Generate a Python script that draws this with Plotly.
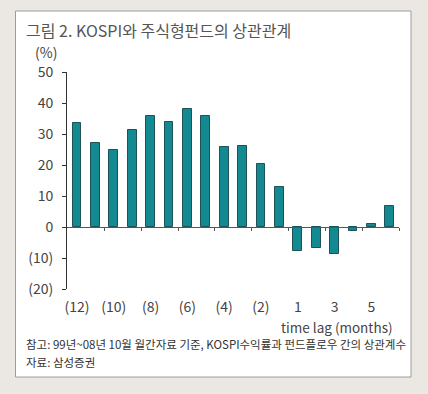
import plotly.graph_objects as go

# Data
lag_positions = list(range(18))
correlations = [33.4, 27.2, 25.0, 31.3, 35.8, 34.0, 38.0, 35.9, 25.7, 26.0,
                20.4, 12.9, -7.6, -6.7, -8.7, -1.4, 1.1, 6.8]
x_label_pos = [0, 2, 4, 6, 8, 10, 12, 14, 16]
x_labels = ["(12)", "(10)", "(8)", "(6)", "(4)", "(2)", "1", "3", "5"]
y_tick_vals = [-20, -10, 0, 10, 20, 30, 40, 50]
y_tick_text = ["(20)", "(10)", "0", "10", "20", "30", "40", "50"]
boundary_ticks = [1.5, 3.5, 5.5, 7.5, 9.5, 11.5, 13.5, 15.5, 17.5]

W, H = 428, 394
L, R, T, B = 67, 29, 72, 105
PW, PH = W - L - R, H - T - B
FONT = "Noto Sans CJK KR"
TXT = "#444444"
BG = "#ebe8e3"

def px(x):
    return (x - L) / PW

def py(y):
    return (H - B - y) / PH

XR = [-0.54, 17.5]
YR = [-20, 50]

fig = go.Figure()
fig.add_trace(go.Bar(
    x=lag_positions, y=correlations, width=0.48,
    marker=dict(color="#138a91", line=dict(color="#1f5257", width=1)),
    xaxis="x", yaxis="y", hoverinfo="skip", showlegend=False,
))
fig.add_trace(go.Scatter(x=[0], y=[0], mode="markers", marker=dict(opacity=0),
                         xaxis="x2", yaxis="y", hoverinfo="skip", showlegend=False))

fig.update_layout(
    width=W, height=H,
    margin=dict(l=L, r=R, t=T, b=B, pad=0, autoexpand=False),
    paper_bgcolor=BG,
    plot_bgcolor="rgba(0,0,0,0)",
    font=dict(family=FONT, color=TXT, size=14),
    bargap=0,
    xaxis=dict(range=XR, anchor="free", position=20 / 70, showline=True,
               linecolor="#555555", linewidth=1, ticks="outside", ticklen=3,
               tickcolor="#555555", tickvals=boundary_ticks, showticklabels=False,
               showgrid=False, zeroline=False, automargin=False),
    xaxis2=dict(range=XR, overlaying="x", anchor="y", side="bottom", showline=False,
                ticks="", tickvals=x_label_pos, ticktext=x_labels,
                tickfont=dict(size=14, color=TXT), ticklabelstandoff=8,
                showgrid=False, zeroline=False, automargin=False),
    yaxis=dict(range=YR, showline=True, linecolor="#333333", linewidth=1,
               ticks="outside", ticklen=4, tickcolor="#333333",
               tickvals=y_tick_vals, ticktext=y_tick_text,
               tickfont=dict(size=14, color=TXT), ticklabelstandoff=6,
               showgrid=False, zeroline=False, automargin=False),
    shapes=[dict(type="rect", xref="paper", yref="paper", layer="below",
                 x0=px(15.5), x1=px(411), y0=py(377), y1=py(11),
                 fillcolor="white", line=dict(color="#9c9c9c", width=1))],
    annotations=[
        dict(text="그림 2. KOSPI와 주식형펀드의 상관관계", xref="paper", yref="paper",
             x=px(24), y=py(30), xanchor="left", yanchor="middle", showarrow=False,
             font=dict(size=16, color="#555555")),
        dict(text="(%)", xref="paper", yref="paper", x=px(33), y=py(52),
             xanchor="left", yanchor="middle", showarrow=False,
             font=dict(size=14, color=TXT)),
        dict(text="time lag (months)", xref="paper", yref="paper", x=px(395), y=py(327),
             xanchor="right", yanchor="middle", showarrow=False,
             font=dict(size=13.5, color=TXT)),
        dict(text="참고: 99년~08년 10월 월간자료 기준, KOSPI수익률과 펀드플로우 간의 상관계수",
             xref="paper", yref="paper", x=px(24), y=py(344), xanchor="left",
             yanchor="middle", showarrow=False, font=dict(size=11.5, color="#333333")),
        dict(text="자료: 삼성증권", xref="paper", yref="paper", x=px(24), y=py(362),
             xanchor="left", yanchor="middle", showarrow=False,
             font=dict(size=11.5, color="#333333")),
    ],
)

fig.write_html("out.html", config={"displayModeBar": False},
               post_script="document.body.style.margin='0';"
                           "document.body.style.background='%s';" % BG)
